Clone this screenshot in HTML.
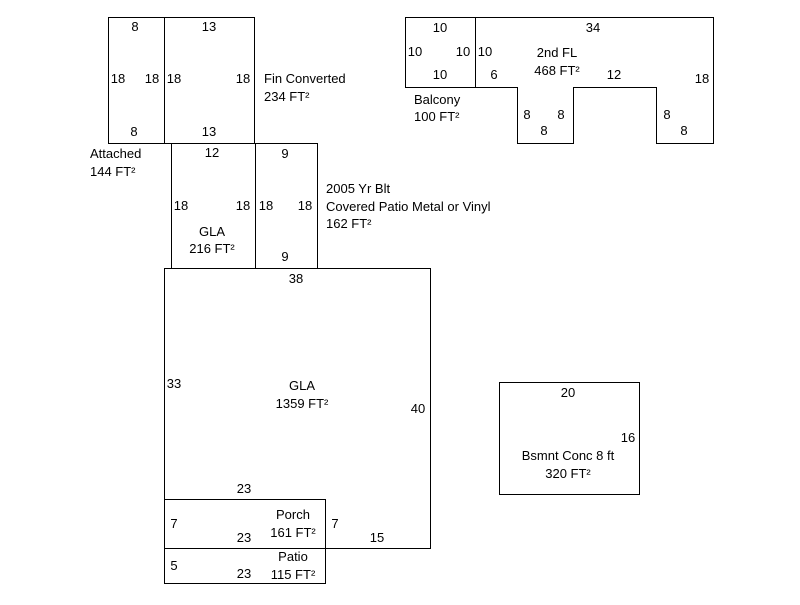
<!DOCTYPE html>
<html><head><style>body{margin:0;background:#fff}svg text{font-family:"Liberation Sans",Arial,sans-serif;font-size:13px;fill:#000}</style></head><body>
<svg width="800" height="600" xmlns="http://www.w3.org/2000/svg">
<g fill="none" stroke="#000" stroke-width="1">
<rect x="108.5" y="17.5" width="56" height="126"/>
<rect x="164.5" y="17.5" width="90" height="126"/>
<rect x="171.5" y="143.5" width="84" height="125"/>
<rect x="255.5" y="143.5" width="62" height="125"/>
<rect x="164.5" y="268.5" width="266" height="280"/>
<rect x="164.5" y="499.5" width="161" height="49"/>
<rect x="164.5" y="548.5" width="161" height="35"/>
<polygon points="405.5,17.5 713.5,17.5 713.5,143.5 656.5,143.5 656.5,87.5 573.5,87.5 573.5,143.5 517.5,143.5 517.5,87.5 405.5,87.5"/>
<line x1="475.5" y1="17.5" x2="475.5" y2="87.5"/>
<rect x="499.5" y="382.5" width="140" height="112"/>
</g>
<g text-anchor="middle">
<text x="135" y="31">8</text><text x="118" y="83">18</text><text x="152" y="83">18</text><text x="134" y="136">8</text>
<text x="209" y="31">13</text><text x="174" y="83">18</text><text x="243" y="83">18</text><text x="209" y="136">13</text>
<text x="212" y="157">12</text><text x="181" y="210">18</text><text x="243" y="210">18</text>
<text x="212" y="236">GLA</text><text x="212" y="253">216 FT²</text>
<text x="285" y="158">9</text><text x="266" y="210">18</text><text x="305" y="210">18</text><text x="285" y="261">9</text>
<text x="296" y="283">38</text><text x="174" y="388">33</text><text x="418" y="413">40</text>
<text x="302" y="390">GLA</text><text x="302" y="408">1359 FT²</text>
<text x="377" y="542">15</text>
<text x="244" y="493">23</text><text x="174" y="528">7</text><text x="335" y="528">7</text><text x="244" y="542">23</text>
<text x="293" y="519">Porch</text><text x="293" y="537">161 FT²</text>
<text x="174" y="570">5</text><text x="244" y="578">23</text>
<text x="293" y="561">Patio</text><text x="293" y="579">115 FT²</text>
<text x="440" y="32">10</text><text x="415" y="56">10</text><text x="463" y="56">10</text><text x="485" y="56">10</text><text x="440" y="79">10</text>
<text x="593" y="32">34</text><text x="557" y="57">2nd FL</text><text x="557" y="75">468 FT²</text>
<text x="494" y="79">6</text><text x="614" y="79">12</text><text x="702" y="83">18</text>
<text x="527" y="119">8</text><text x="561" y="119">8</text><text x="544" y="135">8</text>
<text x="667" y="119">8</text><text x="684" y="135">8</text>
<text x="568" y="397">20</text><text x="628" y="442">16</text>
<text x="568" y="460">Bsmnt Conc 8 ft</text><text x="568" y="478">320 FT²</text>
</g>
<text x="90" y="158">Attached</text><text x="90" y="176">144 FT²</text>
<text x="264" y="83">Fin Converted</text><text x="264" y="101">234 FT²</text>
<text x="326" y="193">2005 Yr Blt</text><text x="326" y="211">Covered Patio Metal or Vinyl</text><text x="326" y="228">162 FT²</text>
<text x="414" y="104">Balcony</text><text x="414" y="121">100 FT²</text>
</svg>
</body></html>
